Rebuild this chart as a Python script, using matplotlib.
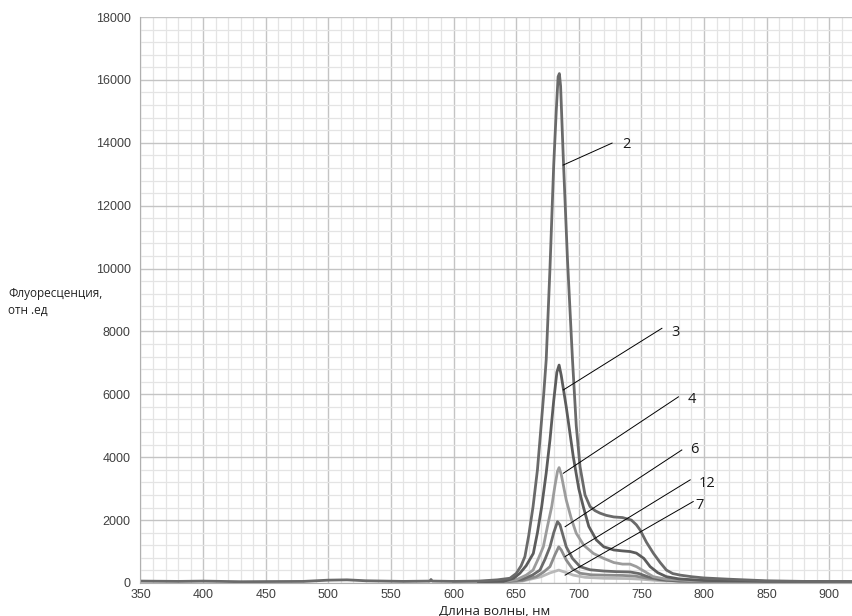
import matplotlib
matplotlib.use("Agg")
import matplotlib.pyplot as plt
from matplotlib.ticker import MultipleLocator

plt.rcParams['font.family'] = ['Liberation Sans', 'DejaVu Sans']

# --- данные ---
wl_2 = [350, 380, 400, 430, 450, 480, 500, 515, 530, 560, 581, 582, 583, 600, 620, 635, 645, 650, 654, 657,
        660, 663.5, 667, 669, 672, 674, 677, 680, 682, 683.5, 684.5, 685.5, 687.7, 691, 695, 698, 701, 705,
        709, 713, 717, 722, 728, 735, 742, 746, 749, 754, 759.5, 765, 770, 775, 781, 790, 800, 820, 850, 880, 919]
fl_2 = [60, 50, 60, 40, 45, 50, 90, 100, 70, 50, 60, 110, 60, 50, 60, 100, 150, 300, 550, 840,
        1500, 2430, 3600, 4550, 6000, 7100, 10000, 13300, 15000, 16100, 16200, 15800, 13450, 10270, 7090, 5000, 3700, 2800,
        2430, 2300, 2220, 2150, 2100, 2080, 2000, 1850, 1685, 1300, 950, 650, 410, 300, 250, 200, 160, 120, 70, 50, 40]

wl_3 = [620, 640, 648, 653, 658, 663.7, 667, 670.4, 674, 677, 680, 682.5, 684.3, 686, 690, 695.6, 700, 703.6,
        708, 714, 720, 728, 735, 741, 746, 752, 757, 763, 770, 780, 800, 850, 919]
fl_3 = [40, 50, 150, 310, 550, 940, 1600, 2430, 3500, 4550, 5800, 6700, 6930, 6600, 5600, 4020, 3000, 2430,
        1800, 1370, 1150, 1050, 1020, 1000, 950, 780, 520, 330, 200, 130, 80, 50, 40]

wl_4 = [620, 640, 650, 658, 663.5, 668, 671.7, 675, 678.4, 681, 683, 684.3, 686, 690, 694, 698, 704, 711.7,
        720, 728, 735, 741, 746, 752, 759.5, 770, 790, 850, 919]
fl_4 = [30, 40, 100, 250, 410, 800, 1150, 1800, 2430, 3100, 3550, 3670, 3450, 2640, 2050, 1580, 1200, 940,
        780, 650, 600, 600, 520, 380, 200, 120, 70, 40, 30]

wl_6 = [620, 640, 655, 663, 669, 673, 677, 680, 683, 685, 690, 695, 701, 709, 720, 730, 741, 748, 755, 765,
        780, 850, 919]
fl_6 = [30, 40, 120, 250, 410, 750, 1150, 1600, 1950, 1850, 1150, 780, 520, 420, 380, 360, 350, 300, 200, 110,
        60, 40, 30]

wl_12 = [620, 640, 655, 666, 672, 677, 681, 684, 686, 690, 695, 701, 710, 720, 735, 745, 755, 770, 800, 919]
fl_12 = [20, 30, 80, 200, 350, 520, 900, 1150, 1050, 730, 450, 310, 260, 250, 240, 220, 150, 80, 40, 30]

wl_7 = [600, 640, 655, 670, 677, 684, 690, 695.6, 705, 720, 740, 750, 765, 800, 919]
fl_7 = [20, 20, 60, 200, 320, 410, 330, 250, 180, 150, 140, 120, 70, 30, 20]

series = [
    (wl_7, fl_7, '#b8b8b8'),
    (wl_12, fl_12, '#8c8c8c'),
    (wl_6, fl_6, '#6a6a6a'),
    (wl_4, fl_4, '#9c9c9c'),
    (wl_3, fl_3, '#5c5c5c'),
    (wl_2, fl_2, '#6a6a6a'),
]

# подписи кривых: (текст, точка на кривой, конец линии, позиция текста)
labels = ['2', '3', '4', '6', '12', '7']
label_from = [(687.5, 13290), (687.7, 6140), (687.7, 3490), (689.1, 1790), (689.1, 840), (689.1, 250)]
label_to = [(726.6, 13990), (766.4, 8100), (779.6, 5920), (782.3, 4230), (789.0, 3280), (791.4, 2590)]
label_pos = [(735, 13930), (774, 7980), (787, 5850), (789, 4260), (796, 3150), (793, 2450)]

fig = plt.figure(figsize=(8.53, 6.16), dpi=100)
ax = fig.add_axes([0.1647, 0.0536, 0.8353, 0.9188])

for x, y, c in series:
    ax.plot(x, y, color=c, lw=2.0, solid_joinstyle='round')

for t, p0, p1, pt in zip(labels, label_from, label_to, label_pos):
    ax.plot([p0[0], p1[0]], [p0[1], p1[1]], color='black', lw=0.7)
    ax.text(pt[0], pt[1], t, fontsize=10.5, color='#1a1a1a', va='center', ha='left',
            family=['Open Sans', 'DejaVu Sans'])

ax.set_xlim(350, 919)
ax.set_ylim(0, 18000)
ax.xaxis.set_major_locator(MultipleLocator(50))
ax.xaxis.set_minor_locator(MultipleLocator(10))
ax.yaxis.set_major_locator(MultipleLocator(2000))
ax.yaxis.set_minor_locator(MultipleLocator(400))
ax.grid(which='major', color='#c4c4c4', lw=1.0)
ax.grid(which='minor', color='#e4e4e4', lw=0.9)
ax.set_axisbelow(True)
ax.tick_params(axis='y', which='both', length=0, labelsize=9, colors='#404040', pad=7)
ax.tick_params(axis='x', which='both', length=0, labelsize=9, colors='#404040', pad=4)
for s in ['top', 'right']:
    ax.spines[s].set_visible(False)
for s in ['left', 'bottom']:
    ax.spines[s].set_color('#b0b0b0')

fig.text(8 / 853, 1 - 293 / 616, 'Флуоресценция,', fontsize=8.5, color='#222222', va='center',
         family=['Open Sans', 'DejaVu Sans'])
fig.text(8 / 853, 1 - 310 / 616, 'отн .ед', fontsize=8.5, color='#222222', va='center',
         family=['Open Sans', 'DejaVu Sans'])
fig.text(495 / 853, 1 - 611 / 616, 'Длина волны, нм', fontsize=9.5, color='#222222', ha='center',
         va='center', family=['Open Sans', 'DejaVu Sans'])

fig.savefig('out.png', dpi=100)
